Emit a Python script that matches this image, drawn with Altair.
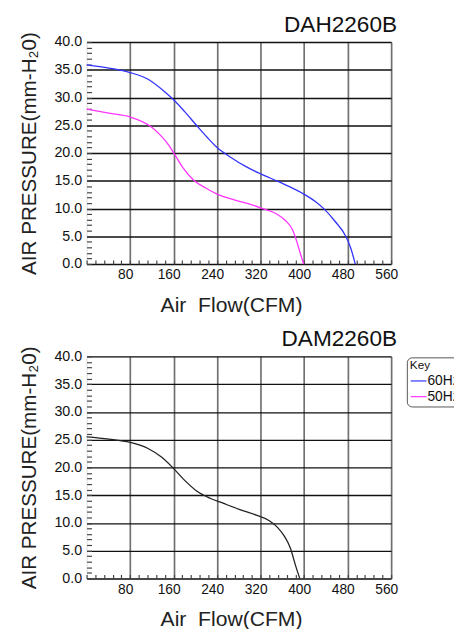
import altair as alt
import pandas as pd

# ---- data ----
flow_60 = [0, 41, 80, 113, 143, 160, 180, 202, 222, 240, 264, 294, 321, 354, 396, 420, 438, 456, 476, 486, 494]
pres_60 = [35.9, 35.3, 34.5, 33.3, 31.1, 29.6, 27.5, 25.0, 22.8, 21.0, 19.3, 17.5, 16.2, 14.8, 12.8, 11.3, 9.8, 7.8, 5.1, 2.8, 0.0]
flow_50 = [0, 41, 80, 116, 137, 152, 161, 176, 197, 219, 240, 270, 300, 324, 348, 366, 378, 387, 393, 399]
pres_50 = [27.9, 27.2, 26.5, 24.9, 23.1, 21.3, 19.9, 17.5, 15.1, 13.7, 12.6, 11.6, 10.8, 10.0, 9.1, 7.8, 6.3, 3.9, 1.9, 0.0]
flow_m = [0, 41, 80, 113, 137, 158, 179, 203, 228, 252, 282, 312, 336, 351, 363, 375, 384, 392]
pres_m = [25.5, 25.1, 24.5, 23.4, 21.9, 20.0, 17.8, 15.7, 14.4, 13.5, 12.4, 11.4, 10.4, 9.2, 7.7, 5.4, 2.4, 0.0]

series = ["60Hz", "50Hz"]
series_colors = ["#3232ff", "#ff32ff"]
titles = ["DAH2260B", "DAM2260B"]
x_major = [80, 160, 240, 320, 400, 480, 560]
y_major = [0, 5, 10, 15, 20, 25, 30, 35, 40]
x_minor = list(range(0, 561, 16))
y_minor = list(range(0, 41, 1))

FONT = "Liberation Sans"
W, H = 310, 226

df_top = pd.DataFrame({
    "flow": flow_60 + flow_50,
    "pressure": pres_60 + pres_50,
    "series": ["60Hz"] * len(flow_60) + ["50Hz"] * len(flow_50),
})
df_bot = pd.DataFrame({"flow": flow_m, "pressure": pres_m})

xs = alt.Scale(domain=[0, 560], nice=False, zero=False)
ys = alt.Scale(domain=[0, 40], nice=False, zero=False)


def x_main():
    return alt.X("flow:Q", scale=xs, axis=alt.Axis(
        values=x_major, title="Air\u00a0 Flow(CFM)", grid=True, gridColor="#707070",
        gridWidth=1.7, ticks=False, domain=False, labelFontSize=14, labelPadding=4,
        labelOffset=-5, labelFlush=False, labelColor="#111", labelFont=FONT, titleFont=FONT,
        titleFontSize=21.5, titleFontWeight="normal", titlePadding=13, titleX=147,
        titleColor="#222"))


def y_main():
    return alt.Y("pressure:Q", scale=ys, axis=alt.Axis(
        values=y_major, format=".1f", title="AIR PRESSURE(mm-H\u20820)", grid=True,
        gridColor="#111", gridWidth=1.5, ticks=False, domain=False, labelFontSize=14.5,
        labelPadding=5, labelFlush=False, labelColor="#111", labelFont=FONT, titleFont=FONT,
        titleFontSize=21, titleFontWeight="normal", titlePadding=15, titleColor="#222"))


def x_minor_enc():
    return alt.X("flow:Q", scale=xs, axis=alt.Axis(
        orient="top", offset=-H, values=x_minor, labels=False, domain=False, grid=False,
        ticks=True, tickSize=4, tickColor="#444", tickWidth=1.2, title=None))


def y_minor_enc():
    return alt.Y("pressure:Q", scale=ys, axis=alt.Axis(
        orient="right", offset=-W, values=y_minor, labels=False, domain=False, grid=False,
        ticks=True, tickSize=5, tickColor="#444", tickWidth=1.2, title=None))


def make_title(t):
    return alt.TitleParams(t, anchor="end", fontSize=23, fontWeight="normal", font=FONT,
                           color="#111", frame="group", offset=-5, dx=6)


color_scale = alt.Scale(domain=series, range=series_colors)

top_main = alt.Chart(df_top).mark_line(interpolate="monotone", strokeWidth=1.3).encode(
    x=x_main(), y=y_main(),
    color=alt.Color("series:N", scale=color_scale, legend=None),
    order=alt.Order("flow:Q"))
top_minor = alt.Chart(df_top).mark_line(opacity=0).encode(
    x=x_minor_enc(), y=y_minor_enc(), detail="series:N")
top = alt.layer(top_main, top_minor).resolve_axis(x="independent", y="independent").properties(
    width=W, height=H, title=make_title(titles[0]))

bot_main = alt.Chart(df_bot).mark_line(interpolate="monotone", strokeWidth=1.3, color="#222").encode(
    x=x_main(), y=y_main())
bot_minor = alt.Chart(df_bot).mark_line(opacity=0).encode(x=x_minor_enc(), y=y_minor_enc())
bot_legend = alt.Chart(df_top).transform_filter("false").mark_line(strokeWidth=1.2).encode(
    x=alt.X("flow:Q", scale=xs, axis=None), y=alt.Y("pressure:Q", scale=ys, axis=None),
    color=alt.Color("series:N", scale=color_scale, legend=alt.Legend(
        title="Key", orient="none", legendX=326, legendY=1, titleFontSize=12,
        titleFontWeight="normal", titleFont=FONT, titleColor="#111", titlePadding=0,
        labelFontSize=14, labelFont=FONT, labelColor="#111", labelOffset=0,
        symbolType="stroke", symbolSize=256, symbolStrokeWidth=1.2, rowPadding=0,
        strokeColor="#555", cornerRadius=5, padding=3)))
bot = alt.layer(bot_main, bot_minor, bot_legend).resolve_axis(x="independent", y="independent").properties(
    width=W, height=H, title=make_title(titles[1]))

chart = alt.vconcat(top, bot, spacing=11).resolve_scale(color="independent").properties(
    padding={"left": 10, "top": -1, "right": -10, "bottom": 0}
).configure_view(stroke="#111", strokeWidth=1.5).configure(background="white")

chart.save("out.html", embed_options={"renderer": "svg", "actions": False})
